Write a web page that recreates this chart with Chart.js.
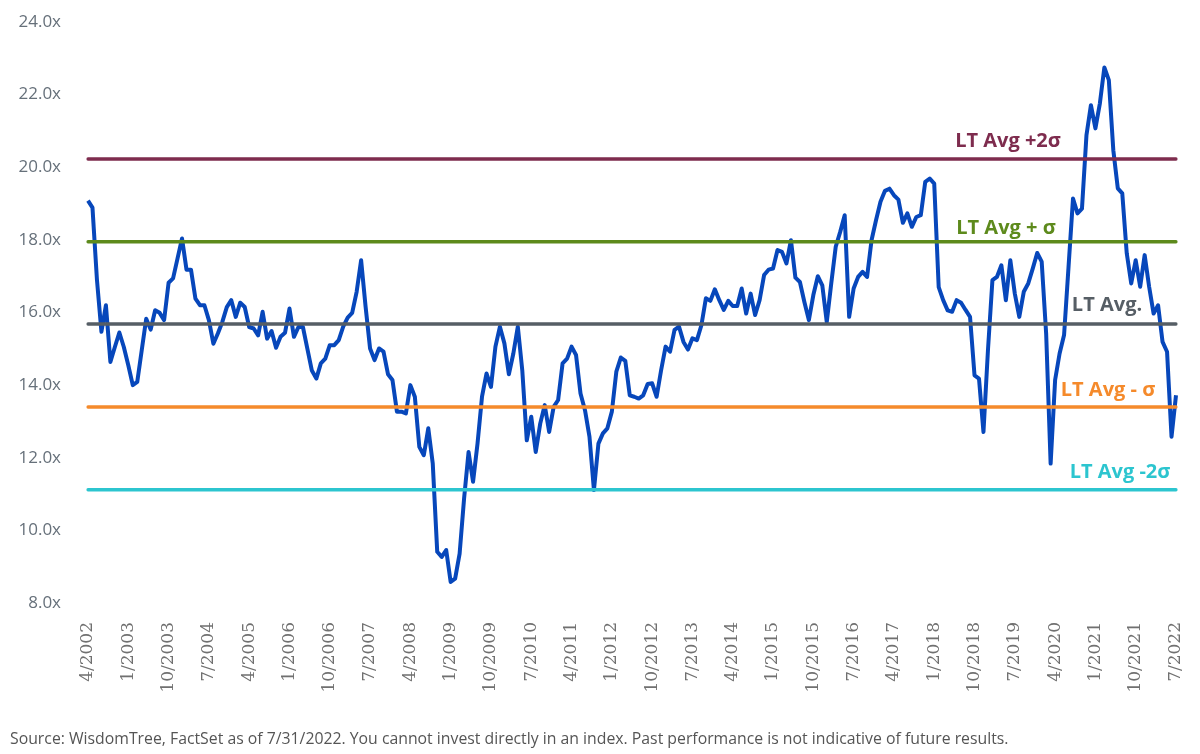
<!DOCTYPE html>
<html>
<head>
<meta charset="utf-8">
<script src="https://cdn.jsdelivr.net/npm/chart.js@4.4.1/dist/chart.umd.min.js"></script>
<style>
  html, body { margin: 0; padding: 0; background: #fff; }
  #wrap { position: relative; width: 1200px; height: 754px; }
  #note {
    position: absolute; left: 10px; top: 727px;
    font-family: "Open Sans", sans-serif; font-size: 15.8px; color: #555;
    white-space: nowrap;
  }
</style>
</head>
<body>
<div id="wrap">
  <canvas id="peChart" width="1200" height="754"></canvas>
  <div id="note">Source: WisdomTree, FactSet as of 7/31/2022. You cannot invest directly in an index. Past performance is not indicative of future results.</div>
</div>
<script>
// monthly P/E, 4/2002 .. 7/2022
const peValues = [
  19.08, 18.89, 16.9, 15.47, 16.2, 14.64, 15.05, 15.45, 15.05, 14.55, 14.0, 14.09,
  14.96, 15.83, 15.53, 16.06, 15.99, 15.79, 16.82, 16.94, 17.49, 18.04, 17.18, 17.18,
  16.38, 16.2, 16.2, 15.79, 15.14, 15.42, 15.74, 16.15, 16.34, 15.88, 16.27, 16.15,
  15.6, 15.56, 15.37, 16.02, 15.28, 15.49, 15.03, 15.33, 15.44, 16.11, 15.33, 15.6,
  15.6, 15.0, 14.4, 14.18, 14.6, 14.73, 15.1, 15.1, 15.24, 15.61, 15.86, 15.99,
  16.57, 17.44, 16.16, 15.01, 14.69, 15.01, 14.92, 14.3, 14.14, 13.27, 13.27, 13.22,
  14.0, 13.68, 12.3, 12.07, 12.81, 11.84, 9.41, 9.27, 9.46, 8.58, 8.67, 9.36,
  10.88, 12.16, 11.34, 12.39, 13.68, 14.32, 13.95, 15.06, 15.61, 15.15, 14.3, 14.87,
  15.61, 14.4, 12.48, 13.13, 12.16, 12.94, 13.45, 12.71, 13.4, 13.59, 14.6, 14.73,
  15.06, 14.83, 13.77, 13.31, 12.58, 11.11, 12.39, 12.67, 12.81, 13.27, 14.37, 14.76,
  14.67, 13.72, 13.68, 13.63, 13.72, 14.03, 14.05, 13.68, 14.41, 15.06, 14.92, 15.52,
  15.61, 15.19, 14.98, 15.29, 15.24, 15.65, 16.39, 16.32, 16.64, 16.34, 16.07, 16.32,
  16.18, 16.18, 16.66, 15.97, 16.52, 15.93, 16.34, 17.03, 17.18, 17.21, 17.72, 17.67,
  17.35, 17.99, 16.96, 16.84, 16.29, 15.79, 16.48, 17.0, 16.75, 15.74, 16.8, 17.81,
  18.22, 18.68, 15.88, 16.66, 16.98, 17.12, 16.98, 17.99, 18.54, 19.05, 19.35, 19.41,
  19.23, 19.11, 18.47, 18.73, 18.36, 18.63, 18.68, 19.6, 19.69, 19.55, 16.7, 16.34,
  16.06, 16.02, 16.34, 16.27, 16.07, 15.88, 14.27, 14.18, 12.71, 14.96, 16.89, 16.98,
  17.3, 16.34, 17.44, 16.52, 15.88, 16.57, 16.8, 17.21, 17.64, 17.4, 15.42, 11.84,
  14.14, 14.87, 15.38, 17.26, 19.14, 18.73, 18.86, 20.88, 21.71, 21.07, 21.76, 22.75,
  22.4, 20.47, 19.42, 19.28, 17.63, 16.8, 17.44, 16.71, 17.58, 16.71, 15.97, 16.2,
  15.19, 14.92, 12.58, 13.72
];

// months for the category axis
const months = [];
for (let i = 0; i < peValues.length; i++) {
  const mm = (3 + i) % 12 + 1;
  const yy = 2002 + Math.floor((3 + i) / 12);
  months.push(mm + "/" + yy);
}

const tickLabels = ["4/2002", "1/2003", "10/2003", "7/2004", "4/2005", "1/2006", "10/2006",
  "7/2007", "4/2008", "1/2009", "10/2009", "7/2010", "4/2011", "1/2012", "10/2012", "7/2013",
  "4/2014", "1/2015", "10/2015", "7/2016", "4/2017", "1/2018", "10/2018", "7/2019", "4/2020",
  "1/2021", "10/2021", "7/2022"];

const levelNames = ["LT Avg +2σ", "LT Avg + σ", "LT Avg.", "LT Avg - σ", "LT Avg -2σ"];
const levelValues = [20.23, 17.95, 15.68, 13.40, 11.12];
const levelColors = ["#7e2c4e", "#5d8a1c", "#565e65", "#f58a2b", "#2cc5cf"];

// where the level captions sit: [x center, px above line]
const captionPos = [[1008, 18], [1006, 13], [1107, 19], [1108, 17], [1120, 17]];

const levelSets = levelValues.map((v, i) => ({
  label: levelNames[i],
  data: [{ x: months[0], y: v }, { x: months[months.length - 1], y: v }],
  borderColor: levelColors[i],
  borderWidth: 3.5,
  borderCapStyle: "round",
  pointRadius: 0,
  order: 0
}));

const captions = {
  id: "captions",
  afterDatasetsDraw(chart) {
    const ctx = chart.ctx;
    const y = chart.scales.y;
    ctx.save();
    ctx.font = "bold 20px 'Open Sans'";
    ctx.textAlign = "center";
    ctx.textBaseline = "middle";
    levelNames.forEach((t, i) => {
      ctx.fillStyle = levelColors[i];
      ctx.fillText(t, captionPos[i][0], y.getPixelForValue(levelValues[i]) - captionPos[i][1]);
    });
    ctx.restore();
  }
};

new Chart(document.getElementById("peChart"), {
  type: "line",
  data: {
    labels: months,
    datasets: [
      ...levelSets,
      {
        label: "P/E",
        data: peValues,
        borderColor: "#0747bb",
        borderWidth: 4,
        borderJoinStyle: "round",
        pointRadius: 0,
        tension: 0,
        order: 1
      }
    ]
  },
  options: {
    responsive: false,
    animation: false,
    layout: { padding: { top: 22, right: 24, left: 0, bottom: 0 } },
    plugins: { legend: { display: false }, tooltip: { enabled: false } },
    scales: {
      x: {
        type: "category",
        grid: { display: false, drawTicks: false },
        border: { display: false },
        afterFit: s => { s.height = 151; s.paddingLeft = 0; s.paddingRight = 0; },
        ticks: {
          autoSkip: false,
          minRotation: 90,
          maxRotation: 90,
          padding: 19,
          color: "#707070",
          font: { family: "DejaVu Serif", size: 17 },
          callback: (val, idx) => idx % 9 === 0 ? tickLabels[idx / 9] : null
        }
      },
      y: {
        min: 8,
        max: 24,
        grid: { display: false, drawTicks: false },
        border: { display: false },
        afterFit: s => { s.width = 88; s.paddingTop = 0; s.paddingBottom = 0; },
        ticks: {
          stepSize: 2,
          padding: 27,
          color: "#66707a",
          font: { family: "Open Sans", size: 17 },
          callback: v => v.toFixed(1) + "x"
        }
      }
    }
  },
  plugins: [captions]
});
</script>
</body>
</html>
